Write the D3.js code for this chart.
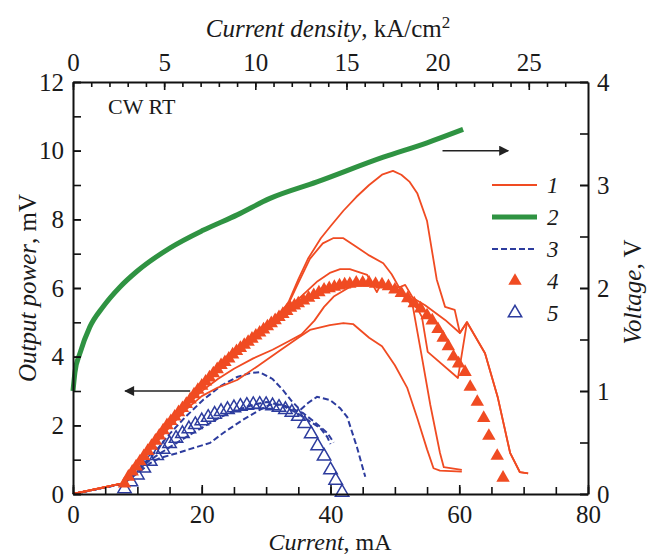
<!DOCTYPE html>
<html>
<head>
<meta charset="utf-8">
<script src="https://cdn.jsdelivr.net/npm/d3@7"></script>
<style>
body { margin: 0; background: #fff; }
</style>
</head>
<body>
<svg id="chart"></svg>
<script>
// ---- data: [current mA, power mW] or [current mA, voltage V] ----
let red1 = [[0,0],[7.5,0.3],[10,0.85],[12.5,1.45],[15,2.05],[17.5,2.6],[20,3.1],[22.5,3.6],[25,4.05],[27.5,4.45],[30,4.85],[32,5.2],[33.5,5.6],[35,6.25],[36.5,6.85],[38.5,7.45],[40,7.8],[42,8.25],[44,8.65],[46,9.0],[48,9.3],[49.7,9.41],[51,9.3],[52.3,9.09],[53.5,8.75],[55,7.95],[56.5,6.25],[57.8,5.45],[59.3,5.36],[60.1,4.69],[61.2,5.01],[64,4.1],[66,2.8],[67.9,1.2],[69.4,0.64],[70.7,0.6]]
let red2 = [[0,0],[7.5,0.3],[10,0.9],[12.5,1.5],[15,2.1],[17.5,2.65],[20,3.15],[22.5,3.65],[25,4.1],[27.5,4.5],[30,4.9],[32,5.25],[33.5,5.55],[35,6.15],[36.8,6.85],[38.8,7.3],[40.4,7.45],[42,7.45],[44,7.2],[46,6.95],[48.2,6.72],[49.5,6.4],[51,5.9],[52.8,5.45],[54,4.2],[55.5,2.6],[57,1.2],[57.6,0.78],[60.4,0.7]]
let red3 = [[0,0],[7.5,0.3],[10,0.9],[12.5,1.5],[15,2.1],[17.5,2.65],[20,3.15],[22.5,3.6],[25,4.05],[27.5,4.45],[30,4.85],[32,5.15],[34,5.5],[36,5.85],[38,6.2],[40,6.45],[41.5,6.55],[43,6.55],[45.7,6.38],[47.2,5.88],[47.8,6.1],[49,6.0],[50.8,6.03],[51.6,6.09],[52.8,5.71],[54.7,5.5],[57.8,5.07],[60.1,4.69],[61.2,5.0],[64,4.1],[66,2.8],[67.9,1.2],[69.4,0.64],[70.7,0.6]]
let red4 = [[0,0],[7.5,0.3],[10,0.85],[12.5,1.45],[15,2.0],[17.5,2.55],[20,3.0],[22.5,3.35],[25,3.65],[28,3.95],[31,4.2],[33.5,4.45],[35.5,4.65],[37.5,5.05],[39,5.45],[40.5,5.75],[43,6.03],[45.7,6.15],[48,6.1],[50,6.0],[52,5.65],[53.5,5.4],[54.2,5.16],[55.1,4.14],[59.8,3.38],[61.2,5.0]]
let red5 = [[0,0],[7.5,0.3],[10,0.85],[12.5,1.4],[15,1.95],[17.5,2.45],[20,2.85],[22.5,3.1],[25.5,3.32],[28.5,3.7],[32.2,4.19],[35,4.55],[36.8,4.78],[39.9,4.92],[42,4.98],[43.5,4.95],[46,4.55],[48,4.3],[50,3.75],[51.9,3.1],[53.5,2.2],[55,1.3],[56,0.75],[57,0.68],[60.4,0.65]]

let green = [[0,1.0],[0.3,1.18],[1.1,1.37],[2.6,1.62],[4.7,1.82],[7.3,2.01],[9.9,2.16],[15.1,2.39],[20.2,2.56],[25.5,2.71],[30.6,2.87],[37.9,3.03],[48.2,3.27],[55,3.41],[60.6,3.54]]

let blue1 = [[0,0],[7.8,0.3],[10,0.7],[12,1.05],[15,1.75],[17.5,2.25],[20.2,2.74],[23,3.15],[25.5,3.41],[27.5,3.52],[29,3.55],[31,3.35],[32.6,3.03],[34,2.7],[35.3,2.45],[36.5,2.65],[37.9,2.83],[39.9,2.74],[41.5,2.5],[42.6,2.24],[44.1,1.37],[45.4,0.5]]
let blue2 = [[0,0],[7.8,0.3],[10,0.6],[12,0.9],[13.5,1.05],[16.2,1.19],[18,1.3],[21.3,1.49],[23.5,1.8],[26.4,2.16],[29,2.45],[30.6,2.6],[32.5,2.6],[35.7,2.36],[37.5,2.1],[39.5,1.78],[40.5,1.5]]
let blue3 = [[0,0],[7.8,0.3],[10,0.65],[12,1.0],[15.1,1.37],[17.5,1.65],[20.2,1.95],[23,2.25],[25.5,2.45],[28,2.6],[30.1,2.68],[32.5,2.58],[34.8,2.36],[36.5,2.15],[38.4,1.92],[39.5,1.66],[40,1.45]]

let redTriangles = [[8,0.3],[8.6,0.5],[9.2,0.65],[9.8,0.8],[10.4,0.95],[11,1.1],[11.6,1.25],[12.2,1.4],[12.8,1.55],[13.4,1.7],[14,1.85],[14.6,2.0],[15.2,2.12],[15.8,2.25],[16.4,2.38],[17,2.5],[17.6,2.62],[18.2,2.75],[18.8,2.9],[19.4,3.03],[20,3.15],[20.6,3.27],[21.2,3.39],[21.8,3.51],[22.4,3.63],[23,3.75],[23.6,3.84],[24.2,3.94],[24.8,4.06],[25.4,4.16],[26,4.25],[26.6,4.34],[27.2,4.43],[27.8,4.52],[28.4,4.61],[29,4.7],[29.6,4.79],[30.2,4.88],[30.8,4.97],[31.4,5.06],[32,5.15],[32.6,5.24],[33.2,5.33],[33.8,5.42],[34.4,5.49],[35,5.55],[35.8,5.63],[36.6,5.71],[37.4,5.79],[38.2,5.87],[39,5.95],[39.8,5.99],[40.6,6.03],[41.4,6.07],[42.2,6.1],[43,6.12],[44,6.15],[45,6.15],[46,6.15],[47,6.12],[48,6.1],[49,6.05],[50,5.95],[51,5.85],[52,5.7],[53,5.55],[54,5.4],[55,5.2],[55.8,5.05],[56.7,4.8],[57.5,4.55],[58.3,4.3],[59.1,4.0],[59.9,3.8],[60.9,3.55],[61.7,3.12],[62.8,2.68],[63.8,2.21],[64.6,1.69],[65.9,1.11],[66.8,0.47]]
let blueTriangles = [[8,0.15],[9,0.35],[10,0.55],[11,0.75],[12,0.95],[13,1.12],[14,1.3],[15,1.47],[16,1.62],[17,1.76],[18,1.9],[19,2.02],[20,2.13],[21,2.23],[22,2.32],[23,2.4],[24,2.46],[25,2.51],[26,2.55],[27,2.58],[28,2.6],[29,2.61],[30,2.6],[31,2.57],[32,2.52],[33,2.46],[34,2.38],[35,2.26],[36,2.05],[37,1.75],[38,1.4],[39,1.1],[40,0.7],[40.8,0.4],[41.8,0.05]]

// arrows: [from current, to current, power level]
let arrowLeft = [18.2, 8.1, 3]
let arrowRight = [57.4, 67.6, 10]

let currentTicks = [0, 20, 40, 60, 80]
let densityTicks = [0, 5, 10, 15, 20, 25]
let powerTicks = [0, 2, 4, 6, 8, 10, 12]
let voltageTicks = [0, 1, 2, 3, 4]
let legendLabels = ['1', '2', '3', '4', '5']

// ---- layout ----
let width = 654
let height = 555
let plotLeft = 73
let plotRight = 588
let plotTop = 82
let plotBottom = 494

let serif = '"Liberation Serif", "Times New Roman", Times, "DejaVu Serif", serif'
let redColor = '#f04b22'
let blueColor = '#2d3c9e'
let greenColor = '#2f9342'
let markerSize = 78

let xScale, jScale, yScale, vScale

let svg = d3.select('#chart')

let createCanvas = () => {
    svg.attr('width', width).attr('height', height)
}

let createScales = () => {
    xScale = d3.scaleLinear().domain([0, 80]).range([plotLeft, plotRight])
    // 25 kA/cm2 sits at about 70.8 mA
    jScale = d3.scaleLinear().domain([0, 80 * 25 / 70.8]).range([plotLeft, plotRight])
    yScale = d3.scaleLinear().domain([0, 12]).range([plotBottom, plotTop])
    vScale = d3.scaleLinear().domain([0, 4]).range([plotBottom, plotTop])
}

let styleAxis = (g) => {
    g.attr('font-size', null).attr('font-family', null)
    g.selectAll('.domain').attr('stroke', '#111').attr('stroke-width', 2)
    g.selectAll('.tick line').attr('stroke', '#111').attr('stroke-width', 1.6)
    g.selectAll('text').style('font-size', '25px').style('font-family', serif).attr('fill', '#1a1a1a')
}

let minorAxis = (axis, values, size) => {
    return axis.tickValues(values).tickSizeInner(-size).tickSizeOuter(0).tickFormat(() => '')
}

let createAxis = () => {
    // minor ticks first
    let gm = svg.append('g')
    gm.append('g').attr('transform', 'translate(0,' + plotBottom + ')')
        .call(minorAxis(d3.axisBottom(xScale), d3.range(0, 81, 5), 7))
    gm.append('g').attr('transform', 'translate(0,' + plotTop + ')')
        .call(minorAxis(d3.axisTop(jScale), d3.range(0, 28, 1), 5))
    gm.append('g').attr('transform', 'translate(' + plotLeft + ',0)')
        .call(minorAxis(d3.axisLeft(yScale), d3.range(0, 13, 1), 8))
    gm.append('g').attr('transform', 'translate(' + plotRight + ',0)')
        .call(minorAxis(d3.axisRight(vScale), d3.range(0, 4.01, 0.5), 8))
    gm.selectAll('.domain').remove()
    gm.selectAll('.tick line').attr('stroke', '#111').attr('stroke-width', 1.6)

    let xAxis = d3.axisBottom(xScale).tickValues(currentTicks).tickSizeInner(-9).tickSizeOuter(0).tickPadding(11).tickFormat(d3.format('d'))
    let tAxis = d3.axisTop(jScale).tickValues(densityTicks).tickSizeInner(-8).tickSizeOuter(0).tickPadding(11).tickFormat(d3.format('d'))
    let yAxis = d3.axisLeft(yScale).tickValues(powerTicks).tickSizeInner(-8).tickSizeOuter(0).tickPadding(9).tickFormat(d3.format('d'))
    let vAxis = d3.axisRight(vScale).tickValues(voltageTicks).tickSizeInner(-8).tickSizeOuter(0).tickPadding(9).tickFormat(d3.format('d'))

    svg.append('g').attr('id', 'x-axis').attr('transform', 'translate(0,' + plotBottom + ')').call(xAxis).call(styleAxis)
    svg.append('g').attr('id', 'top-axis').attr('transform', 'translate(0,' + plotTop + ')').call(tAxis).call(styleAxis)
    svg.append('g').attr('id', 'y-axis').attr('transform', 'translate(' + plotLeft + ',0)').call(yAxis).call(styleAxis)
    svg.append('g').attr('id', 'v-axis').attr('transform', 'translate(' + plotRight + ',0)').call(vAxis).call(styleAxis)
}

let addText = (sel) => sel.append('text').style('font-family', serif).attr('fill', '#1a1a1a')

let createTitles = () => {
    let t = addText(svg).attr('x', 330).attr('y', 550).attr('text-anchor', 'middle').style('font-size', '24px')
    t.append('tspan').attr('font-style', 'italic').text('Current')
    t.append('tspan').text(', mA')

    let tt = addText(svg).attr('x', 328).attr('y', 37).attr('text-anchor', 'middle').style('font-size', '25px')
    tt.append('tspan').attr('font-style', 'italic').text('Current density')
    tt.append('tspan').text(', kA/cm')
    tt.append('tspan').attr('dy', -9).style('font-size', '17px').text('2')

    let tl = addText(svg).attr('transform', 'translate(36,288) rotate(-90)').attr('text-anchor', 'middle').style('font-size', '25px')
    tl.append('tspan').attr('font-style', 'italic').text('Output power')
    tl.append('tspan').text(', mV')

    let tr = addText(svg).attr('transform', 'translate(641,292) rotate(-90)').attr('text-anchor', 'middle').style('font-size', '25px')
    tr.append('tspan').attr('font-style', 'italic').text('Voltage')
    tr.append('tspan').text(', V')

    addText(svg).attr('x', 108).attr('y', 114).style('font-size', '22px').text('CW RT')
}

let powerLine = d3.line().x(d => xScale(d[0])).y(d => yScale(d[1]))
let voltLine = d3.line().x(d => xScale(d[0])).y(d => vScale(d[1])).curve(d3.curveMonotoneX)

let createLines = () => {
    let g = svg.append('g').attr('fill', 'none')

    g.selectAll('.blue').data([blue1, blue2, blue3]).enter().append('path')
        .attr('class', 'blue')
        .attr('d', powerLine)
        .attr('stroke', blueColor)
        .attr('stroke-width', 2)
        .attr('stroke-dasharray', '6,3')

    g.selectAll('.btri').data(blueTriangles).enter().append('path')
        .attr('class', 'btri')
        .attr('transform', d => 'translate(' + xScale(d[0]) + ',' + yScale(d[1]) + ')')
        .attr('d', d3.symbol(d3.symbolTriangle, markerSize))
        .attr('fill', 'none')
        .attr('stroke', blueColor)
        .attr('stroke-width', 1.5)

    g.selectAll('.red').data([red5, red4, red3, red2, red1]).enter().append('path')
        .attr('class', 'red')
        .attr('d', powerLine)
        .attr('stroke', redColor)
        .attr('stroke-width', 1.8)
        .attr('stroke-linejoin', 'round')

    g.selectAll('.rtri').data(redTriangles).enter().append('path')
        .attr('class', 'rtri')
        .attr('transform', d => 'translate(' + xScale(d[0]) + ',' + yScale(d[1]) + ')')
        .attr('d', d3.symbol(d3.symbolTriangle, markerSize))
        .attr('fill', redColor)

    g.append('path').datum(green)
        .attr('d', voltLine)
        .attr('stroke', greenColor)
        .attr('stroke-width', 5)
}

let createArrows = () => {
    let defs = svg.append('defs')
    defs.append('marker').attr('id', 'head')
        .attr('viewBox', '0 0 10 10').attr('refX', 9).attr('refY', 5)
        .attr('markerWidth', 15).attr('markerHeight', 10).attr('markerUnits', 'userSpaceOnUse')
        .attr('orient', 'auto')
        .append('path').attr('d', 'M0,0 L10,5 L0,10 Z').attr('fill', '#222')

    svg.selectAll('.arrow').data([arrowLeft, arrowRight]).enter().append('line')
        .attr('class', 'arrow')
        .attr('x1', d => xScale(d[0])).attr('x2', d => xScale(d[1]))
        .attr('y1', d => yScale(d[2])).attr('y2', d => yScale(d[2]))
        .attr('stroke', '#222').attr('stroke-width', 1.5)
        .attr('marker-end', 'url(#head)')
}

let createLegend = () => {
    let lx = 492, ly = 185, step = 32
    let g = svg.append('g')
    let items = g.selectAll('g').data(legendLabels).enter().append('g')
        .attr('transform', (d, i) => 'translate(' + lx + ',' + (ly + i * step) + ')')

    items.each(function (d, i) {
        let it = d3.select(this)
        if (i === 0) it.append('line').attr('x2', 45).attr('stroke', redColor).attr('stroke-width', 1.8)
        if (i === 1) it.append('line').attr('x2', 45).attr('stroke', greenColor).attr('stroke-width', 5)
        if (i === 2) it.append('line').attr('x2', 45).attr('stroke', blueColor).attr('stroke-width', 2).attr('stroke-dasharray', '6,3')
        if (i === 3) it.append('path').attr('transform', 'translate(23,0)').attr('d', d3.symbol(d3.symbolTriangle, markerSize)).attr('fill', redColor)
        if (i === 4) it.append('path').attr('transform', 'translate(23,0)').attr('d', d3.symbol(d3.symbolTriangle, markerSize)).attr('fill', 'none').attr('stroke', blueColor).attr('stroke-width', 1.5)
    })

    addText(items).attr('x', 55).attr('y', 8)
        .attr('font-style', 'italic').style('font-size', '23px')
        .text(d => d)
}

createCanvas()
createScales()
createLines()
createArrows()
createAxis()
createTitles()
createLegend()
</script>
</body>
</html>
